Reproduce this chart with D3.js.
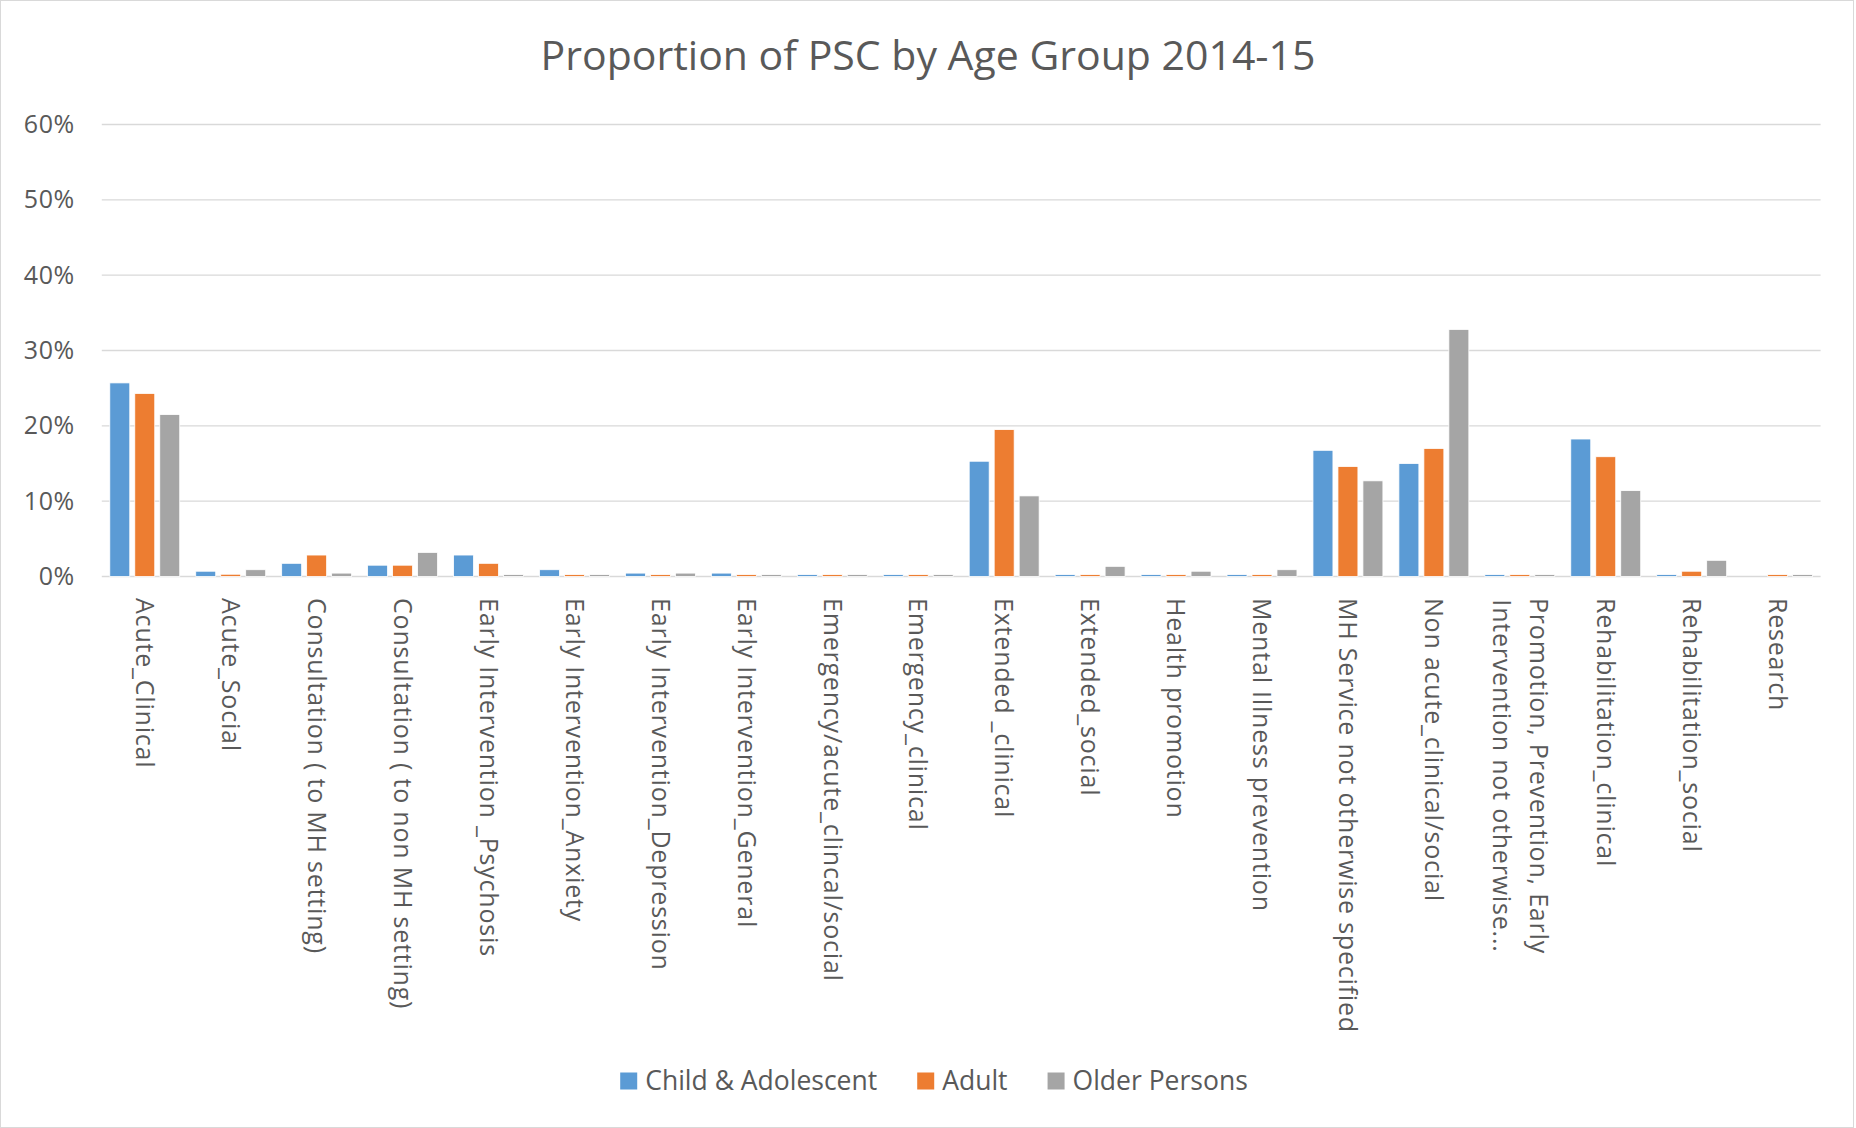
<!DOCTYPE html>
<html>
<head>
<meta charset="utf-8">
<script src="https://cdn.jsdelivr.net/npm/d3@7"></script>
<style>
  body { margin: 0; background: #fff; }
  text { font-family: "Open Sans", sans-serif; fill: #595959; }
</style>
</head>
<body>
<svg id="chart" width="1856" height="1128"></svg>
<script>
// categories, in chart order ("\n" marks a wrapped label)
const categories = [
  "Acute_Clinical",
  "Acute_Social",
  "Consultation ( to MH setting)",
  "Consultation ( to non MH setting)",
  "Early Intervention _Psychosis",
  "Early Intervention_Anxiety",
  "Early Intervention_Depression",
  "Early Intervention_General",
  "Emergency/acute_clincal/social",
  "Emergency_clinical",
  "Extended _clinical",
  "Extended_social",
  "Health promotion",
  "Mental Illness prevention",
  "MH Service not otherwise specified",
  "Non acute_clinical/social",
  "Promotion, Prevention, Early\nIntervention not otherwise...",
  "Rehabilitation_clinical",
  "Rehabilitation_social",
  "Research"
];

const seriesNames = ["Child & Adolescent", "Adult", "Older Persons"];

// percent values
const childValues = [25.7, 0.7, 1.75, 1.5, 2.85, 0.9, 0.45, 0.45, 0.25, 0.25, 15.3, 0.25, 0.25, 0.25, 16.75, 15.0, 0.25, 18.25, 0.25, 0];
const adultValues = [24.3, 0.3, 2.85, 1.5, 1.75, 0.25, 0.25, 0.25, 0.25, 0.25, 19.5, 0.25, 0.25, 0.25, 14.6, 17.0, 0.25, 15.9, 0.7, 0.25];
const olderValues = [21.5, 0.9, 0.45, 3.2, 0.25, 0.25, 0.45, 0.25, 0.25, 0.25, 10.7, 1.35, 0.7, 0.9, 12.7, 32.8, 0.25, 11.4, 2.15, 0.25];

const yTicks = [0, 10, 20, 30, 40, 50, 60];
const colors = ["#5B9BD5", "#ED7D31", "#A5A5A5"];

const width = 1856, height = 1128;
const margin = { top: 124.5, right: 35.4, bottom: 551.5, left: 101.8 };
const innerWidth = width - margin.left - margin.right;
const innerHeight = height - margin.top - margin.bottom;

const svg = d3.select('#chart');

// chart border
svg.append('rect')
  .attr('x', 0.5).attr('y', 0.5)
  .attr('width', width - 3).attr('height', height - 1)
  .attr('fill', '#fff')
  .attr('stroke', '#d9d9d9');

// title
svg.append('text')
  .attr('x', width / 2)
  .attr('y', 70)
  .attr('text-anchor', 'middle')
  .style('font-size', '41px')
  .text('Proportion of PSC by Age Group 2014-15');

const g = svg.append('g').attr('transform', `translate(${margin.left},${margin.top})`);

const x0 = d3.scaleBand().domain(categories).range([0, innerWidth]).padding(0);
const x1 = d3.scaleBand().domain(seriesNames).range([0, x0.bandwidth()])
  .paddingInner(0.2).paddingOuter(0.32);
const y = d3.scaleLinear().domain([0, 60]).range([innerHeight, 0]);
const color = d3.scaleOrdinal(seriesNames, colors);

// gridlines
g.append('g')
  .selectAll('line')
  .data(yTicks)
  .enter()
  .append('line')
  .attr('x1', 0).attr('x2', innerWidth)
  .attr('y1', d => y(d)).attr('y2', d => y(d))
  .attr('stroke', '#d9d9d9')
  .attr('stroke-width', 1.3);

// y axis labels
const yAxis = g.append('g')
  .call(d3.axisLeft(y).tickValues(yTicks).tickFormat(d => d + '%').tickSize(0).tickPadding(27));
yAxis.select('.domain').remove();
yAxis.selectAll('text')
  .style('font-size', '25px')
  .style('letter-spacing', '0.6px')
  .style('font-family', '"Open Sans", sans-serif')
  .attr('fill', '#595959');

// bars
const rows = categories.map((c, i) => ({
  category: c,
  values: [childValues[i], adultValues[i], olderValues[i]]
}));

const groups = g.selectAll('.cat')
  .data(rows)
  .enter()
  .append('g')
  .attr('class', 'cat')
  .attr('transform', d => `translate(${x0(d.category)},0)`);

groups.selectAll('rect')
  .data(d => d.values.map((v, j) => ({ key: seriesNames[j], value: v })))
  .enter()
  .append('rect')
  .attr('x', d => x1(d.key))
  .attr('width', x1.bandwidth())
  .attr('y', d => y(d.value))
  .attr('height', d => y(0) - y(d.value))
  .attr('fill', d => color(d.key))
  .attr('stroke', '#fff')
  .attr('stroke-width', 0.8);

// category labels, rotated to read downwards
const labelTop = 598 - margin.top;
const lineGap = 37;
const labels = g.selectAll('.xlabel')
  .data(categories)
  .enter()
  .append('g')
  .attr('class', 'xlabel')
  .attr('transform', d => `translate(${x0(d) + x0.bandwidth() / 2},${labelTop}) rotate(90)`);

labels.each(function(d) {
  const lines = d.split('\n');
  const sel = d3.select(this);
  const texts = lines.map((line, k) => sel.append('text')
    .attr('x', 0)
    .attr('y', (k - (lines.length - 1) / 2) * lineGap)
    .attr('dy', '0.35em')
    .style('font-size', '25px')
    .style('letter-spacing', '0.8px')
    .text(line));
  if (lines.length > 1) {
    const widths = texts.map(t => t.node().getComputedTextLength());
    const maxW = d3.max(widths);
    texts.forEach((t, k) => t.attr('x', (maxW - widths[k]) / 2));
  }
});

// legend
const legend = svg.append('g');
let lx = 0;
seriesNames.forEach((name, i) => {
  const item = legend.append('g').attr('transform', `translate(${lx},0)`);
  item.append('rect')
    .attr('x', 0).attr('y', -8.5)
    .attr('width', 17).attr('height', 17)
    .attr('fill', colors[i]);
  const t = item.append('text')
    .attr('x', 25)
    .attr('dy', '0.35em')
    .style('font-size', '26.5px')
    .text(name);
  lx += 25 + t.node().getComputedTextLength() + 40;
});
const legendWidth = lx - 40;
legend.attr('transform', `translate(${934 - legendWidth / 2},1081)`);
</script>
</body>
</html>
